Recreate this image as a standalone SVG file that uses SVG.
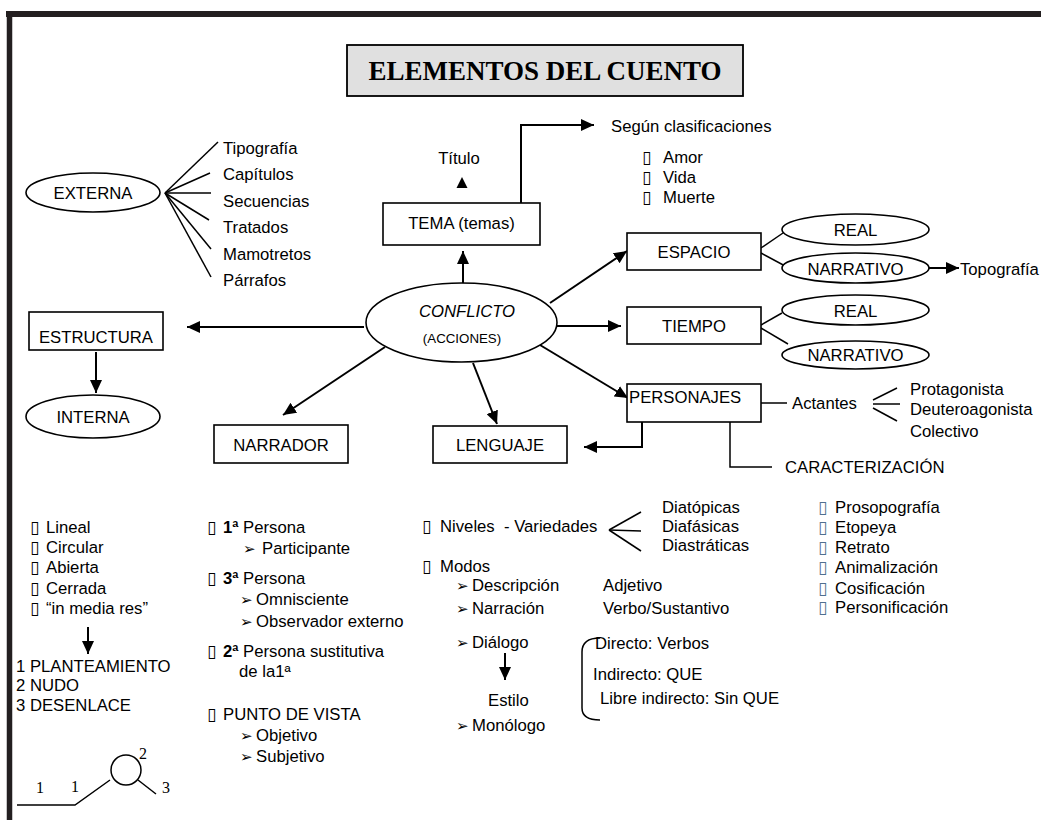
<svg xmlns="http://www.w3.org/2000/svg" width="1041" height="820" viewBox="0 0 1041 820">
<style>
text{font-family:"Liberation Sans",Arial,sans-serif;font-size:16.7px;fill:#000}
.c{text-anchor:middle}
.box{fill:#fff;stroke:#000;stroke-width:1.6}
.con{fill:none;stroke:#000;stroke-width:2}
.thin{fill:none;stroke:#000;stroke-width:1.5}
.sq{font-family:"DejaVu Sans",sans-serif;font-size:17px}
.sqb{font-family:"DejaVu Sans",sans-serif;font-size:17px;fill:#4f6f8f}
.ar{font-family:"DejaVu Sans",sans-serif;font-size:15px}
.serif{font-family:"Liberation Serif","Times New Roman",serif;font-size:16px}
</style>
<defs>
<marker id="ah" markerUnits="userSpaceOnUse" markerWidth="14" markerHeight="12" refX="13" refY="6" orient="auto">
<path d="M0,0 L13,6 L0,12 Z" fill="#000"/>
</marker>
</defs>
<rect width="1041" height="820" fill="#fff"/>
<g id="frame">
<line x1="6" y1="14" x2="1041" y2="14" stroke="#231f20" stroke-width="6"/>
<line x1="9.5" y1="11" x2="9.5" y2="820" stroke="#231f20" stroke-width="5.5"/>
</g>
<g id="title">
<rect x="347" y="45" width="396" height="51" fill="#e0e0e0" stroke="#000" stroke-width="1.8"/>
<text x="545" y="80" class="c" style="font-family:'Liberation Serif','Times New Roman',serif;font-size:27px;font-weight:bold">ELEMENTOS DEL CUENTO</text>
</g>
<g id="connectors">
<line class="con" x1="463" y1="283" x2="463" y2="251" marker-end="url(#ah)"/>
<polygon points="462,177 456.5,188 467.5,188" fill="#000"/>
<polyline class="con" points="521,203 521,125 594,125" marker-end="url(#ah)"/>
<line class="con" x1="364" y1="327" x2="187" y2="327" marker-end="url(#ah)"/>
<line class="con" x1="96" y1="352" x2="96" y2="393" marker-end="url(#ah)"/>
<line class="con" x1="385" y1="347" x2="283" y2="415" marker-end="url(#ah)"/>
<line class="con" x1="473" y1="363" x2="497" y2="424" marker-end="url(#ah)"/>
<line class="con" x1="550" y1="303" x2="627" y2="251" marker-end="url(#ah)"/>
<line class="con" x1="557" y1="326" x2="621" y2="326" marker-end="url(#ah)"/>
<line class="con" x1="540" y1="345" x2="628" y2="398" marker-end="url(#ah)"/>
<polyline class="con" points="642,422 642,447 584,447" marker-end="url(#ah)"/>
<polyline class="thin" points="730,422 730,467 772,467"/>
<line class="thin" x1="761" y1="403" x2="787" y2="403"/>
<line class="thin" x1="873" y1="400" x2="897" y2="388"/>
<line class="thin" x1="873" y1="404" x2="900" y2="404"/>
<line class="thin" x1="873" y1="408" x2="897" y2="421"/>
<line class="con" x1="929" y1="268" x2="959" y2="268" marker-end="url(#ah)"/>
<line class="thin" x1="761" y1="248" x2="783" y2="233"/>
<line class="thin" x1="761" y1="253" x2="787" y2="267"/>
<line class="thin" x1="761" y1="325" x2="782" y2="313"/>
<line class="thin" x1="761" y1="328" x2="788" y2="344"/>
<line class="thin" x1="165" y1="193" x2="218" y2="142"/>
<line class="thin" x1="165" y1="193" x2="210" y2="173"/>
<line class="thin" x1="165" y1="193" x2="211" y2="193"/>
<line class="thin" x1="165" y1="193" x2="209" y2="220"/>
<line class="thin" x1="165" y1="193" x2="211" y2="249"/>
<line class="thin" x1="165" y1="193" x2="211" y2="277"/>
<line class="thin" x1="609" y1="530" x2="641" y2="512"/>
<line class="thin" x1="609" y1="530" x2="641" y2="531"/>
<line class="thin" x1="609" y1="530" x2="641" y2="551"/>
<line class="con" x1="88" y1="627" x2="88" y2="654" marker-end="url(#ah)"/>
<line class="con" x1="505" y1="653" x2="505" y2="680" marker-end="url(#ah)"/>
<path class="thin" d="M600,638 Q582,638 582,652 L582,708 Q582,720 600,720"/>
</g>
<g id="conflicto">
<ellipse cx="461.5" cy="322.5" rx="95.5" ry="39.5" class="box"/>
<text x="467" y="317" class="c" font-style="italic">CONFLICTO</text>
<text x="462" y="343" class="c" style="font-size:13.3px">(ACCIONES)</text>
</g>
<g id="tema">
<rect x="383" y="203" width="157" height="42" class="box"/>
<text x="461.5" y="229" class="c">TEMA (temas)</text>
<text x="459" y="164" class="c">Título</text>
</g>
<g id="segun">
<text x="611" y="132">Según clasificaciones</text>
<text x="642" y="163"><tspan class="sq">▯</tspan><tspan x="663">Amor</tspan></text>
<text x="642" y="183"><tspan class="sq">▯</tspan><tspan x="663">Vida</tspan></text>
<text x="642" y="203"><tspan class="sq">▯</tspan><tspan x="663">Muerte</tspan></text>
</g>
<g id="externa">
<ellipse cx="93" cy="192.5" rx="67" ry="19.5" class="box"/>
<text x="93" y="199" class="c">EXTERNA</text>
<text x="223" y="154">Tipografía</text>
<text x="223" y="180">Capítulos</text>
<text x="223" y="207">Secuencias</text>
<text x="223" y="233">Tratados</text>
<text x="223" y="260">Mamotretos</text>
<text x="223" y="286">Párrafos</text>
</g>
<g id="estructura">
<rect x="29" y="312" width="134" height="38" class="box"/>
<text x="96" y="343" class="c">ESTRUCTURA</text>
</g>
<g id="interna">
<ellipse cx="93" cy="416.5" rx="67" ry="21.5" class="box"/>
<text x="93" y="423" class="c">INTERNA</text>
</g>
<g id="narrador">
<rect x="214" y="425" width="134" height="38" class="box"/>
<text x="281" y="451" class="c">NARRADOR</text>
</g>
<g id="lenguaje">
<rect x="433" y="426" width="134" height="37" class="box"/>
<text x="500" y="451" class="c">LENGUAJE</text>
</g>
<g id="espacio">
<rect x="627" y="233" width="134" height="37" class="box"/>
<text x="694" y="258" class="c">ESPACIO</text>
<ellipse cx="855.5" cy="229.5" rx="73.5" ry="15.5" class="box"/>
<text x="855.5" y="236" class="c">REAL</text>
<ellipse cx="855.5" cy="268" rx="73.5" ry="15" class="box"/>
<text x="855.5" y="275" class="c">NARRATIVO</text>
<text x="960" y="275">Topografía</text>
</g>
<g id="tiempo">
<rect x="627" y="307" width="134" height="37" class="box"/>
<text x="694" y="332" class="c">TIEMPO</text>
<ellipse cx="855.5" cy="310" rx="73.5" ry="15" class="box"/>
<text x="855.5" y="317" class="c">REAL</text>
<ellipse cx="855.5" cy="355" rx="73.5" ry="14" class="box"/>
<text x="855.5" y="361" class="c">NARRATIVO</text>
</g>
<g id="personajes">
<rect x="627" y="384" width="134" height="38" class="box"/>
<text x="629" y="403">PERSONAJES</text>
<text x="792" y="409">Actantes</text>
<text x="910" y="395">Protagonista</text>
<text x="910" y="415">Deuteroagonista</text>
<text x="910" y="437">Colectivo</text>
<text x="785" y="473">CARACTERIZACIÓN</text>
</g>
<g id="estructura-list">
<text x="30" y="533"><tspan class="sq">▯</tspan><tspan x="46">Lineal</tspan></text>
<text x="30" y="553"><tspan class="sq">▯</tspan><tspan x="46">Circular</tspan></text>
<text x="30" y="573"><tspan class="sq">▯</tspan><tspan x="46">Abierta</tspan></text>
<text x="30" y="594"><tspan class="sq">▯</tspan><tspan x="46">Cerrada</tspan></text>
<text x="30" y="614"><tspan class="sq">▯</tspan><tspan x="46">“in media res”</tspan></text>
<text x="16" y="672">1 PLANTEAMIENTO</text>
<text x="16" y="691">2 NUDO</text>
<text x="16" y="711">3 DESENLACE</text>
</g>
<g id="sketch">
<polyline class="thin" points="17,805 75,805 110,780"/>
<circle cx="126" cy="770" r="15" class="thin"/>
<line class="thin" x1="138" y1="780" x2="156" y2="794"/>
<text x="36" y="793" class="serif">1</text>
<text x="71" y="792" class="serif">1</text>
<text x="139" y="759" class="serif">2</text>
<text x="162" y="793" class="serif">3</text>
</g>
<g id="narrador-list">
<text x="207" y="533"><tspan class="sq">▯</tspan><tspan x="223" font-weight="bold">1ª</tspan> Persona</text>
<text x="243" y="554"><tspan class="ar">➢</tspan><tspan x="262">Participante</tspan></text>
<text x="207" y="584"><tspan class="sq">▯</tspan><tspan x="223" font-weight="bold">3ª</tspan> Persona</text>
<text x="240" y="605"><tspan class="ar">➢</tspan><tspan x="256">Omnisciente</tspan></text>
<text x="240" y="627"><tspan class="ar">➢</tspan><tspan x="256">Observador externo</tspan></text>
<text x="207" y="657"><tspan class="sq">▯</tspan><tspan x="223" font-weight="bold">2ª</tspan> Persona sustitutiva</text>
<text x="239" y="677">de la1ª</text>
<text x="207" y="720"><tspan class="sq">▯</tspan><tspan x="223">PUNTO DE VISTA</tspan></text>
<text x="240" y="741"><tspan class="ar">➢</tspan><tspan x="256">Objetivo</tspan></text>
<text x="240" y="762"><tspan class="ar">➢</tspan><tspan x="256">Subjetivo</tspan></text>
</g>
<g id="lenguaje-list">
<text x="422" y="532" xml:space="preserve"><tspan class="sq">▯</tspan><tspan x="440">Niveles  - Variedades</tspan></text>
<text x="662" y="513">Diatópicas</text>
<text x="662" y="532">Diafásicas</text>
<text x="662" y="551">Diastráticas</text>
<text x="422" y="572"><tspan class="sq">▯</tspan><tspan x="440">Modos</tspan></text>
<text x="456" y="591"><tspan class="ar">➢</tspan><tspan x="472">Descripción</tspan></text>
<text x="603" y="591">Adjetivo</text>
<text x="456" y="614"><tspan class="ar">➢</tspan><tspan x="472">Narración</tspan></text>
<text x="603" y="614">Verbo/Sustantivo</text>
<text x="456" y="648"><tspan class="ar">➢</tspan><tspan x="472">Diálogo</tspan></text>
<text x="488" y="706">Estilo</text>
<text x="456" y="731"><tspan class="ar">➢</tspan><tspan x="472">Monólogo</tspan></text>
<text x="595" y="649">Directo: Verbos</text>
<text x="593" y="680">Indirecto: QUE</text>
<text x="600" y="704">Libre indirecto: Sin QUE</text>
</g>
<g id="caracterizacion-list">
<text x="818" y="513"><tspan class="sqb">▯</tspan><tspan x="835">Prosopografía</tspan></text>
<text x="818" y="533"><tspan class="sqb">▯</tspan><tspan x="835">Etopeya</tspan></text>
<text x="818" y="553"><tspan class="sqb">▯</tspan><tspan x="835">Retrato</tspan></text>
<text x="818" y="573"><tspan class="sqb">▯</tspan><tspan x="835">Animalización</tspan></text>
<text x="818" y="594"><tspan class="sqb">▯</tspan><tspan x="835">Cosificación</tspan></text>
<text x="818" y="613"><tspan class="sqb">▯</tspan><tspan x="835">Personificación</tspan></text>
</g>
</svg>
